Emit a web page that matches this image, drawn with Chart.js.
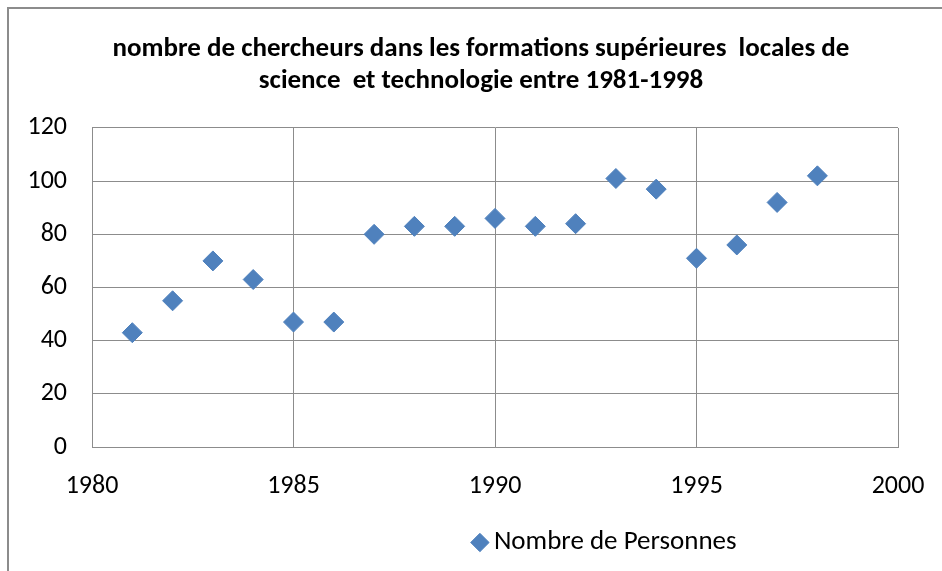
<!DOCTYPE html>
<html>
<head>
<meta charset="utf-8">
<script src="https://cdn.jsdelivr.net/npm/chart.js@4/dist/chart.umd.min.js"></script>
<style>
    html, body { margin: 0; padding: 0; background: #fff; }
    #cadre {
        position: absolute; left: 7px; top: 7px; width: 950px; height: 580px;
        border-left: 2px solid #8c8c8c; border-top: 2px solid #8c8c8c;
    }
    #zone { position: absolute; left: 0; top: 0; width: 942px; height: 571px; }
</style>
</head>
<body>
<div id="cadre"></div>
<div id="zone"><canvas id="chart" width="942" height="571"></canvas></div>
<script>
/* Années et nombre de chercheurs */
const annees = [1981, 1982, 1983, 1984, 1985, 1986, 1987, 1988, 1989, 1990, 1991, 1992, 1993, 1994, 1995, 1996, 1997, 1998];
const personnes = [43, 55, 70, 63, 47, 47, 80, 83, 83, 86, 83, 84, 101, 97, 71, 76, 92, 102];
const ticksX = [1980, 1985, 1990, 1995, 2000];
const ticksY = [0, 20, 40, 60, 80, 100, 120];

const titre = ['nombre de chercheurs dans les formations supérieures  locales de', 'science  et technologie entre 1981-1998'];
const nomSerie = 'Nombre de Personnes';

const police = 'Carlito, "Liberation Sans Narrow", Lato, sans-serif';
const bleu = '#4f81bd';
const gris = '#8c8c8c';

/* Décale le titre et la légende vers la droite, comme dans Excel */
const decalage = {
    id: 'decalage',
    afterLayout(chart) {
        chart.titleBlock.left += 27;
        chart.titleBlock.right += 27;
        chart.legend.left += 154;
        chart.legend.right += 154;
    }
};

const ctx = document.querySelector('#chart').getContext('2d');

let config = new Chart(ctx, {
    type: 'scatter',
    data: {
        datasets: [{
            label: nomSerie,
            data: annees.map((a, i) => ({x: a, y: personnes[i]})),
            backgroundColor: bleu,
            borderColor: bleu,
            pointStyle: 'rectRot',
            pointRadius: 10,
            pointHoverRadius: 10
        }]
    },
    options: {
        responsive: false,
        animation: false,
        layout: { autoPadding: false, padding: { left: 10, right: 44, top: 0, bottom: 5 } },
        plugins: {
            title: {
                display: true,
                text: titre,
                color: '#000',
                padding: { top: 33, bottom: 31 },
                font: { family: police, size: 27, weight: 'bold', lineHeight: 1.185 }
            },
            legend: {
                display: true,
                position: 'bottom',
                labels: {
                    usePointStyle: true,
                    color: '#000',
                    boxHeight: 13,
                    boxWidth: 1,
                    padding: 10,
                    font: { family: police, size: 27 }
                }
            },
            tooltip: { enabled: false }
        },
        scales: {
            x: {
                type: 'linear',
                min: 1980,
                max: 2000,
                afterBuildTicks: axe => { axe.ticks = ticksX.map(v => ({value: v})); },
                afterFit: axe => {
                    axe.height = 72;
                    axe.paddingLeft = 0;
                    axe.paddingRight = 0;
                },
                grid: { color: gris, drawTicks: false },
                border: { color: gris },
                ticks: {
                    color: '#000',
                    padding: 24,
                    font: { family: police, size: 26 },
                    callback: v => String(v)
                }
            },
            y: {
                min: 0,
                max: 120,
                afterBuildTicks: axe => { axe.ticks = ticksY.map(v => ({value: v})); },
                afterFit: axe => {
                    axe.width = 82;
                    axe.paddingTop = 0;
                    axe.paddingBottom = 0;
                },
                grid: { color: gris, drawTicks: false },
                border: { color: gris },
                ticks: {
                    color: '#000',
                    padding: 25,
                    font: { family: police, size: 26 }
                }
            }
        }
    },
    plugins: [decalage]
});
</script>
</body>
</html>
